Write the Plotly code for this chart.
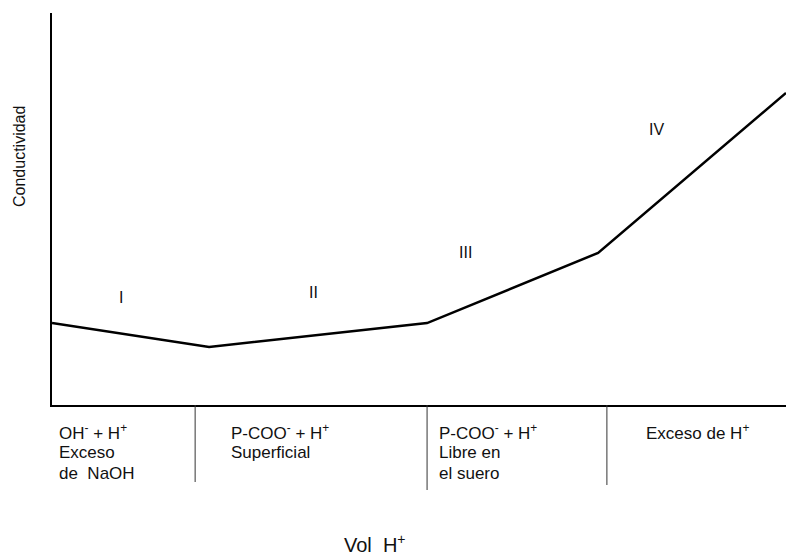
import plotly.graph_objects as go

# ---- data (arbitrary units) ----
vol_h = [0, 21.4, 51.1, 74.4, 100]
conductividad = [20.9, 14.8, 20.9, 38.8, 79.6]

region_bounds = [19.5, 51.1, 75.6]

roman_labels = ["I", "II", "III", "IV"]
roman_x = [9.4, 35.6, 56.4, 82.4]
roman_y = [27.3, 28.8, 38.8, 70.2]

region_lines = [
    ["OH<sup>-</sup> + H<sup>+</sup>", "Exceso", "de\u00a0\u00a0NaOH"],
    ["P-COO<sup>-</sup> + H<sup>+</sup>", "Superficial"],
    ["P-COO<sup>-</sup> + H<sup>+</sup>", "Libre en", "el suero"],
    ["Exceso de H<sup>+</sup>"],
]

x_title = "Vol\u00a0\u00a0H<sup>+</sup>"
y_title = "Conductividad"

# ---- figure ----
W, H = 786, 557
ML, MR, MT, MB = 52, 0, 13, 152
PW, PH = W - ML - MR, H - MT - MB

def px_to_paper_x(px):
    return (px - ML) / PW

def px_to_paper_y(py):
    return (H - MB - py) / PH

fig = go.Figure()
fig.add_trace(go.Scatter(
    x=vol_h, y=conductividad, mode="lines",
    line=dict(color="black", width=2.5),
    hoverinfo="skip", showlegend=False,
))

font_main = "Liberation Sans, Arial, sans-serif"
annotations = []
for lab, xx, yy in zip(roman_labels, roman_x, roman_y):
    annotations.append(dict(
        x=xx, y=yy, xref="x", yref="y", text=lab, showarrow=False,
        font=dict(family=font_main, size=16, color="#111"),
        xanchor="center", yanchor="middle"))

col_px = [58, 230, 438, 645]
row_px = [432, 452, 473]
for col, lines in zip(col_px, region_lines):
    for i, t in enumerate(lines):
        annotations.append(dict(
            x=px_to_paper_x(col) - 0.002, y=px_to_paper_y(row_px[i]),
            xref="paper", yref="paper", text=t, showarrow=False,
            font=dict(family=font_main, size=17, color="#111"),
            xanchor="left", yanchor="middle"))

annotations.append(dict(
    x=px_to_paper_x(375), y=px_to_paper_y(543), xref="paper", yref="paper",
    text=x_title, showarrow=False,
    font=dict(family=font_main, size=20, color="#111"),
    xanchor="center", yanchor="middle"))
annotations.append(dict(
    x=px_to_paper_x(19), y=px_to_paper_y(157), xref="paper", yref="paper",
    text=y_title, showarrow=False, textangle=-90,
    font=dict(family=font_main, size=16, color="#111"),
    xanchor="center", yanchor="middle"))

shapes = []
sep_bottom = [482, 490, 485]
for xb, yb in zip(region_bounds, sep_bottom):
    shapes.append(dict(
        type="line", xref="x", yref="paper",
        x0=xb, x1=xb, y0=0, y1=px_to_paper_y(yb),
        line=dict(color="#333", width=1)))

fig.update_layout(
    width=W, height=H,
    margin=dict(l=ML, r=MR, t=MT, b=MB, pad=0),
    paper_bgcolor="white", plot_bgcolor="white",
    showlegend=False,
    annotations=annotations, shapes=shapes,
    xaxis=dict(range=[0, 100], showgrid=False, zeroline=False,
               showticklabels=False, ticks="", showline=True,
               linecolor="black", linewidth=1.5, fixedrange=True),
    yaxis=dict(range=[0, 100], showgrid=False, zeroline=False,
               showticklabels=False, ticks="", showline=True,
               linecolor="black", linewidth=1.5, fixedrange=True),
)

fig.write_html("out.html", config={"displayModeBar": False},
               post_script="document.body.style.margin='0';document.body.style.overflow='hidden';")
